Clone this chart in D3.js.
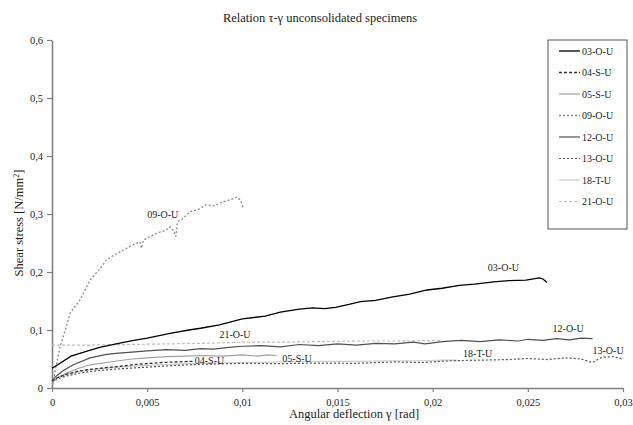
<!DOCTYPE html>
<html>
<head>
<meta charset="utf-8">
<script src="https://cdn.jsdelivr.net/npm/d3@7"></script>
<style>
  body { margin: 0; background: #fff; }
  svg text { font-family: "Liberation Serif", "Times New Roman", serif; fill: #222; }
</style>
</head>
<body>
<svg width="633" height="425"></svg>
<script>
// Tick values for both axes
var xTicks = [0, 0.005, 0.01, 0.015, 0.02, 0.025, 0.03];
var yTicks = [0, 0.1, 0.2, 0.3, 0.4, 0.5, 0.6];

// Series names in legend order
var names = ['03-O-U', '04-S-U', '05-S-U', '09-O-U', '12-O-U', '13-O-U', '18-T-U', '21-O-U'];

// Angular deflection (rad) and shear stress (N/mm2)
var g03 = [0, 0.0003, 0.001, 0.0018, 0.0025, 0.0035, 0.0043, 0.005, 0.0062, 0.0072, 0.0078, 0.0088, 0.01, 0.0112, 0.012, 0.013, 0.0137, 0.0143, 0.0149, 0.0156, 0.0162, 0.017, 0.0179, 0.0188, 0.0197, 0.0205, 0.0214, 0.0222, 0.0232, 0.024, 0.0249, 0.0256, 0.0258, 0.026];
var t03 = [0.034, 0.040, 0.055, 0.063, 0.070, 0.077, 0.082, 0.086, 0.094, 0.100, 0.103, 0.109, 0.119, 0.124, 0.131, 0.136, 0.138, 0.137, 0.139, 0.144, 0.149, 0.151, 0.157, 0.162, 0.169, 0.172, 0.177, 0.179, 0.183, 0.185, 0.186, 0.190, 0.188, 0.182];

var g04 = [0, 0.0003, 0.0008, 0.0014, 0.002, 0.0028, 0.0035, 0.0042, 0.005, 0.0058, 0.0066, 0.0074];
var t04 = [0.012, 0.018, 0.024, 0.029, 0.032, 0.035, 0.037, 0.040, 0.042, 0.044, 0.045, 0.046];

var g05 = [0, 0.0003, 0.0008, 0.0014, 0.002, 0.00287, 0.0035, 0.0042, 0.005, 0.006, 0.007, 0.008, 0.009, 0.01, 0.0108, 0.0113, 0.0118];
var t05 = [0.010, 0.018, 0.026, 0.034, 0.040, 0.044, 0.047, 0.050, 0.052, 0.054, 0.055, 0.056, 0.055, 0.057, 0.055, 0.057, 0.056];

var g09 = [0, 0.0002, 0.00042, 0.0007, 0.00095, 0.00147, 0.002, 0.0025, 0.00287, 0.0033, 0.00375, 0.0042, 0.00462, 0.0047, 0.0048, 0.0055, 0.006, 0.0062, 0.0064, 0.0065, 0.0066, 0.0068, 0.00725, 0.0077, 0.0081, 0.0085, 0.009, 0.0094, 0.0097, 0.0099, 0.01005];
var t09 = [0, 0.035, 0.071, 0.100, 0.129, 0.152, 0.186, 0.205, 0.221, 0.230, 0.238, 0.246, 0.252, 0.241, 0.255, 0.267, 0.272, 0.278, 0.270, 0.261, 0.287, 0.290, 0.304, 0.308, 0.316, 0.314, 0.321, 0.325, 0.329, 0.324, 0.310];

var g12 = [0, 0.0002, 0.0006, 0.00112, 0.002, 0.00287, 0.0035, 0.0042, 0.005, 0.006, 0.007, 0.0078, 0.0085, 0.0093, 0.01, 0.011, 0.012, 0.013, 0.014, 0.015, 0.016, 0.017, 0.018, 0.019, 0.0196, 0.0205, 0.0215, 0.0225, 0.0235, 0.0245, 0.025, 0.0258, 0.0265, 0.0272, 0.0278, 0.0284];
var t12 = [0.013, 0.020, 0.030, 0.040, 0.052, 0.058, 0.060, 0.062, 0.064, 0.066, 0.065, 0.068, 0.067, 0.070, 0.072, 0.073, 0.071, 0.075, 0.073, 0.076, 0.074, 0.077, 0.076, 0.079, 0.076, 0.080, 0.082, 0.080, 0.083, 0.081, 0.084, 0.082, 0.085, 0.083, 0.086, 0.085];

var g13 = [0, 0.0003, 0.0008, 0.0015, 0.0024, 0.0035, 0.005, 0.0065, 0.008, 0.01, 0.012, 0.014, 0.016, 0.018, 0.0195, 0.021, 0.0225, 0.024, 0.025, 0.026, 0.027, 0.0278, 0.0284, 0.0289, 0.0295, 0.03];
var t13 = [0.010, 0.016, 0.021, 0.026, 0.030, 0.033, 0.036, 0.039, 0.041, 0.0425, 0.042, 0.043, 0.0425, 0.045, 0.044, 0.047, 0.048, 0.049, 0.051, 0.049, 0.052, 0.050, 0.044, 0.053, 0.054, 0.050];

var g18 = [0, 0.0003, 0.0008, 0.0015, 0.0024, 0.0035, 0.005, 0.0065, 0.008, 0.01, 0.012, 0.014, 0.016, 0.018, 0.0195, 0.0205, 0.0213];
var t18 = [0.012, 0.018, 0.024, 0.029, 0.033, 0.036, 0.039, 0.041, 0.043, 0.044, 0.045, 0.046, 0.046, 0.047, 0.047, 0.048, 0.048];

var g21 = [0, 0.002, 0.004, 0.006, 0.008, 0.01, 0.012, 0.014, 0.016, 0.018, 0.0204];
var t21 = [0.074, 0.074, 0.075, 0.076, 0.077, 0.079, 0.079, 0.080, 0.081, 0.081, 0.082];

// Curve labels inside the plot: [gamma, tau] of the label's left edge
var labelG = [0.0229, 0.0075, 0.0121, 0.0050, 0.0263, 0.0284, 0.0216, 0.0088];
var labelT = [0.207, 0.0466, 0.0517, 0.300, 0.1034, 0.0638, 0.0603, 0.0914];

var gammas = [g03, g04, g05, g09, g12, g13, g18, g21];
var taus = [t03, t04, t05, t09, t12, t13, t18, t21];

// line styles per series
var styles = [
    {stroke: '#000', dash: null, w: 1.3},
    {stroke: '#333', dash: '3,2', w: 1.3},
    {stroke: '#a0a0a0', dash: null, w: 1.2},
    {stroke: '#8a8a8a', dash: '2,2', w: 1.3},
    {stroke: '#505050', dash: null, w: 1.2},
    {stroke: '#555', dash: '2,2', w: 1.2},
    {stroke: '#cccccc', dash: null, w: 1.2},
    {stroke: '#bdbdbd', dash: '3,2', w: 1.2}
];

var series = names.map(function(n, i) {
    return {
        name: n,
        points: gammas[i].map(function(g, j) { return [g, taus[i][j]]; }),
        style: styles[i],
        label: [labelG[i], labelT[i]]
    };
});

var svg = d3.select('svg');
var padding = {t: 40, r: 10, b: 37, l: 52};

var x = d3.scaleLinear().domain([0, 0.03]).range([padding.l, 623]);
var y = d3.scaleLinear().domain([0, 0.6]).range([388, padding.t]);

var comma = function(d) { return String(d).replace('.', ','); };

// Title
svg.append('text')
    .attr('x', 320)
    .attr('y', 22)
    .attr('text-anchor', 'middle')
    .style('font-size', '12.5px')
    .text('Relation τ-γ unconsolidated specimens');

// Axes
var xAxis = svg.append('g')
    .attr('transform', 'translate(0,' + y(0) + ')')
    .call(d3.axisBottom(x).tickValues(xTicks).tickFormat(comma).tickSize(4).tickSizeOuter(0).tickPadding(7));

var yAxis = svg.append('g')
    .attr('transform', 'translate(' + x(0) + ',0)')
    .call(d3.axisLeft(y).tickValues(yTicks).tickFormat(comma).tickSize(5).tickSizeOuter(0).tickPadding(4));

[xAxis, yAxis].forEach(function(a) {
    a.select('.domain').attr('stroke', '#808080').attr('stroke-width', 1.6);
    a.selectAll('.tick line').attr('stroke', '#808080').attr('stroke-width', 1.2);
    a.selectAll('.tick text')
        .style('font-family', '"Liberation Serif", serif')
        .style('font-size', '10.5px')
        .attr('fill', '#222');
});

// Axis titles
svg.append('text')
    .attr('x', 354)
    .attr('y', 418)
    .attr('text-anchor', 'middle')
    .style('font-size', '12.5px')
    .text('Angular deflection γ [rad]');

svg.append('text')
    .attr('transform', 'translate(23,' + 223 + ') rotate(-90)')
    .attr('text-anchor', 'middle')
    .style('font-size', '12.5px')
    .html('Shear stress [N/mm<tspan dy="-4" font-size="8px">2</tspan><tspan dy="4">]</tspan>');

// Curves
var line = d3.line()
    .x(function(d) { return x(d[0]); })
    .y(function(d) { return y(d[1]); });

svg.append('g').selectAll('path')
    .data(series.slice().reverse())
    .enter().append('path')
    .attr('d', function(d) { return line(d.points); })
    .attr('fill', 'none')
    .attr('stroke', function(d) { return d.style.stroke; })
    .attr('stroke-width', function(d) { return d.style.w; })
    .attr('stroke-dasharray', function(d) { return d.style.dash; });

// Curve labels
svg.append('g').selectAll('text')
    .data(series)
    .enter().append('text')
    .attr('x', function(d) { return x(d.label[0]); })
    .attr('y', function(d) { return y(d.label[1]); })
    .attr('dy', '0.35em')
    .style('font-size', '10px')
    .text(function(d) { return d.name; });

// Legend
var legend = svg.append('g').attr('transform', 'translate(548,40)');
legend.append('rect')
    .attr('width', 79)
    .attr('height', 189)
    .attr('fill', '#fff')
    .attr('stroke', '#555')
    .attr('stroke-width', 1);

var rows = legend.selectAll('.row')
    .data(series)
    .enter().append('g')
    .attr('class', 'row')
    .attr('transform', function(d, i) { return 'translate(0,' + (11 + i * 21.5) + ')'; });

rows.append('line')
    .attr('x1', 11).attr('x2', 32)
    .attr('stroke', function(d) { return d.style.stroke; })
    .attr('stroke-width', function(d) { return d.style.w; })
    .attr('stroke-dasharray', function(d) { return d.style.dash; });

rows.append('text')
    .attr('x', 34)
    .attr('dy', '0.35em')
    .style('font-size', '10px')
    .text(function(d) { return d.name; });
</script>
</body>
</html>
